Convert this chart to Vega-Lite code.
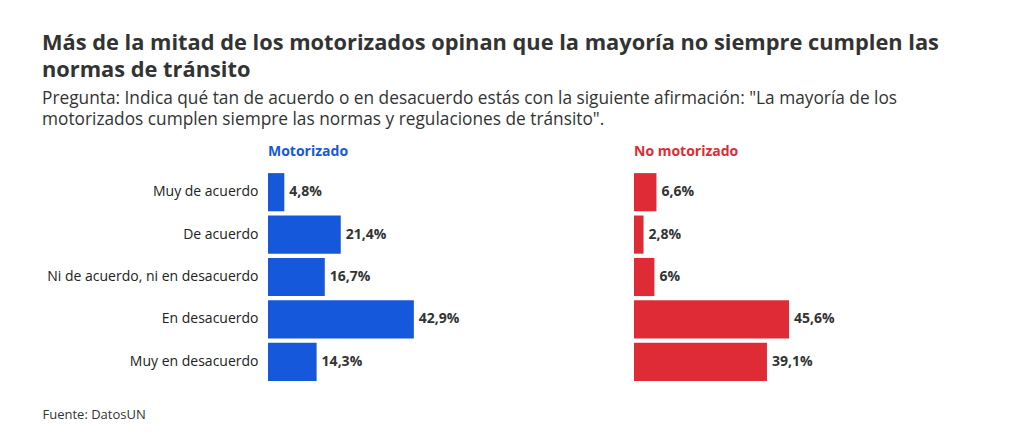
{
  "$schema": "https://vega.github.io/schema/vega-lite/v6.json",
  "background": "white",
  "padding": {"left": 42, "top": 33, "right": 5, "bottom": 5},
  "config": {
    "font": "Open Sans",
    "view": {"stroke": null},
    "concat": {"spacing": 26},
    "locale": {"number": {"decimal": ",", "thousands": ".", "grouping": [3], "currency": ["", " €"]}}
  },
  "title": {
    "text": ["Más de la mitad de los motorizados opinan que la mayoría no siempre cumplen las", "normas de tránsito"],
    "subtitle": ["Pregunta: Indica qué tan de acuerdo o en desacuerdo estás con la siguiente afirmación: \"La mayoría de los", "motorizados cumplen siempre las normas y regulaciones de tránsito\"."],
    "anchor": "start",
    "frame": "bounds",
    "fontSize": 21.8,
    "fontWeight": "bold",
    "color": "#333333",
    "lineHeight": 26.5,
    "subtitleFontSize": 17.3,
    "subtitleLineHeight": 21,
    "subtitleColor": "#333333",
    "subtitlePadding": 8.5,
    "offset": 16.5
  },
  "datasets": {
    "motorizado": [
      {"respuesta": "Muy de acuerdo", "pct": 0.048},
      {"respuesta": "De acuerdo", "pct": 0.214},
      {"respuesta": "Ni de acuerdo, ni en desacuerdo", "pct": 0.167},
      {"respuesta": "En desacuerdo", "pct": 0.429},
      {"respuesta": "Muy en desacuerdo", "pct": 0.143}
    ],
    "no_motorizado": [
      {"respuesta": "Muy de acuerdo", "pct": 0.066},
      {"respuesta": "De acuerdo", "pct": 0.028},
      {"respuesta": "Ni de acuerdo, ni en desacuerdo", "pct": 0.06},
      {"respuesta": "En desacuerdo", "pct": 0.456},
      {"respuesta": "Muy en desacuerdo", "pct": 0.391}
    ]
  },
  "hconcat": [
    {
      "width": 340,
      "height": 212,
      "title": {"text": "Motorizado", "anchor": "start", "frame": "group", "fontSize": 14, "fontWeight": "bold", "color": "#1558DC", "offset": 12},
      "data": {"name": "motorizado"},
      "encoding": {
        "y": {
          "field": "respuesta", "type": "nominal", "sort": null,
          "scale": {"paddingInner": 0.1, "paddingOuter": 0.05},
          "axis": {"title": null, "ticks": false, "domain": false, "labelPadding": 10, "labelFontSize": 14, "labelColor": "#222222", "labelLimit": 300}
        },
        "x": {
          "field": "pct", "type": "quantitative",
          "scale": {"domain": [0, 1]},
          "axis": {
            "title": "Fuente: DatosUN", "labels": false, "ticks": false, "domain": false, "grid": false,
            "titleX": -226, "titleY": 35, "titleAlign": "left", "titleBaseline": "alphabetic",
            "titleFontSize": 13, "titleFontWeight": "normal", "titleColor": "#333333"
          }
        }
      },
      "layer": [
        {"mark": {"type": "bar", "color": "#1558DC"}},
        {
          "mark": {"type": "text", "align": "left", "dx": 5, "fontSize": 14, "fontWeight": "bold", "color": "#333333"},
          "encoding": {"text": {"field": "pct", "type": "quantitative", "format": ".1~%"}}
        }
      ]
    },
    {
      "width": 340,
      "height": 212,
      "title": {"text": "No motorizado", "anchor": "start", "frame": "group", "fontSize": 14, "fontWeight": "bold", "color": "#DE2B36", "offset": 12},
      "data": {"name": "no_motorizado"},
      "encoding": {
        "y": {
          "field": "respuesta", "type": "nominal", "sort": null,
          "scale": {"paddingInner": 0.1, "paddingOuter": 0.05},
          "axis": null
        },
        "x": {
          "field": "pct", "type": "quantitative",
          "scale": {"domain": [0, 1]},
          "axis": null
        }
      },
      "layer": [
        {"mark": {"type": "bar", "color": "#DE2B36"}},
        {
          "mark": {"type": "text", "align": "left", "dx": 5, "fontSize": 14, "fontWeight": "bold", "color": "#333333"},
          "encoding": {"text": {"field": "pct", "type": "quantitative", "format": ".1~%"}}
        }
      ]
    }
  ]
}
